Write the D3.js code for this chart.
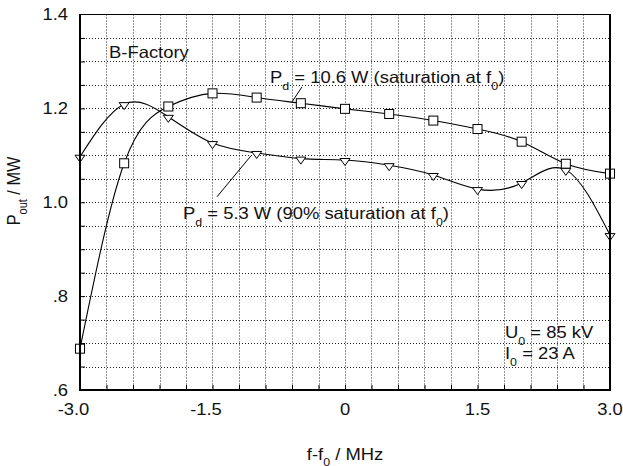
<!DOCTYPE html>
<html><head><meta charset="utf-8">
<script src="https://cdn.jsdelivr.net/npm/d3@7"></script>
<style>
html,body{margin:0;padding:0;background:#fff;}
svg{display:block;}
text{font-family:"Liberation Sans",Arial,sans-serif;fill:#111;}
</style></head>
<body>
<svg id="chart" width="623" height="466"></svg>
<script>
// ---- data ----
const freqs = [-3.0,-2.5,-2.0,-1.5,-1.0,-0.5,0,0.5,1.0,1.5,2.0,2.5,3.0];
const pSat = [0.688,1.083,1.204,1.232,1.223,1.211,1.199,1.188,1.174,1.156,1.129,1.082,1.061]; // Pd = 10.6 W
const p90  = [1.097,1.209,1.182,1.126,1.105,1.093,1.090,1.079,1.058,1.028,1.041,1.069,0.930]; // Pd = 5.3 W
const xTickValues = [-3.0,-1.5,0,1.5,3.0];
const xTickLabels = ["-3.0","-1.5","0","1.5","3.0"];
const yTickValues = [0.6,0.8,1.0,1.2,1.4];
const yTickLabels = [".6",".8","1.0","1.2","1.4"];

const svg = d3.select("#chart");
const L=80, R=610, T=14.5, B=390;
const x = d3.scaleLinear().domain([-3,3]).range([L,R]);
const y = d3.scaleLinear().domain([0.6,1.4]).range([B,T]);
const FS = 16.3, SUB = 11, SX = 1.13, SUBDY = 6.5;

// grid
const xGrid = d3.range(-2.7, 2.71, 0.3);
const yGrid = d3.range(0.65, 1.3999, 0.05);
const g = svg.append("g");
g.selectAll(".vg").data(xGrid).join("line")
  .attr("x1",d=>Math.round(x(d))+0.5).attr("x2",d=>Math.round(x(d))+0.5)
  .attr("y1",T).attr("y2",B)
  .attr("stroke","#222").attr("stroke-width",1).attr("stroke-dasharray","1,2");
g.selectAll(".hg").data(yGrid).join("line")
  .attr("y1",d=>Math.round(y(d))+0.5).attr("y2",d=>Math.round(y(d))+0.5)
  .attr("x1",L).attr("x2",R)
  .attr("stroke","#222").attr("stroke-width",1).attr("stroke-dasharray","1,2");

// inner ticks via d3 axes
svg.append("g").attr("transform",`translate(0,${B})`)
  .call(d3.axisBottom(x).tickValues(xGrid).tickSize(-5).tickFormat(""))
  .call(a=>a.select(".domain").remove())
  .call(a=>a.selectAll("line").attr("stroke","#000"));
svg.append("g").attr("transform",`translate(${L},0)`)
  .call(d3.axisLeft(y).tickValues(yGrid).tickSize(-5).tickFormat(""))
  .call(a=>a.select(".domain").remove())
  .call(a=>a.selectAll("line").attr("stroke","#000"));

// frame
svg.append("line").attr("x1",L).attr("x2",R).attr("y1",T).attr("y2",T).attr("stroke","#000").attr("stroke-width",1.2);
svg.append("line").attr("x1",L).attr("x2",R+1).attr("y1",B).attr("y2",B).attr("stroke","#000").attr("stroke-width",2);

// tick labels
svg.selectAll(".xl").data(xTickValues).join("text")
  .attr("transform",(d,i)=>`translate(${x(d) + (xTickLabels[i].startsWith("-")?-6.5:0)},415) scale(${SX},1)`)
  .attr("text-anchor","middle").attr("font-size",FS)
  .text((d,i)=>xTickLabels[i]);
svg.selectAll(".yl").data(yTickValues).join("text")
  .attr("transform",d=>`translate(68,${y(d)+5.8}) scale(${SX},1)`)
  .attr("text-anchor","end").attr("font-size",FS)
  .text((d,i)=>yTickLabels[i]);

// rich text helper: parts = [[text, isSub], ...]
function rich(parent, tx, ty, parts, opts={}){
  const t = parent.append("text")
    .attr("transform", opts.rotate ? `translate(${tx},${ty}) rotate(-90) scale(1,${SX})` : `translate(${tx},${ty}) scale(${SX},1)`)
    .attr("font-size",FS)
    .attr("text-anchor", opts.anchor||"start");
  let sub=false;
  parts.forEach(([s,isSub])=>{
    const ts = t.append("tspan").text(s);
    if(isSub && !sub){ts.attr("dy",SUBDY).attr("font-size",SUB);}
    else if(isSub){ts.attr("font-size",SUB);}
    else if(!isSub && sub){ts.attr("dy",-SUBDY);}
    sub=isSub;
  });
  return t;
}

// curves
const line = d3.line().x(d=>x(d[0])).y(d=>y(d[1])).curve(d3.curveNatural);
const satPts = freqs.map((f,i)=>[f,pSat[i]]);
const p90Pts = freqs.map((f,i)=>[f,p90[i]]);
const plot = svg.append("g");
plot.append("path").attr("d",line(satPts)).attr("fill","none").attr("stroke","#000").attr("stroke-width",1.1);
plot.append("path").attr("d",line(p90Pts)).attr("fill","none").attr("stroke","#000").attr("stroke-width",1.1);

// leader lines (data coordinates)
const leaders = [[[-0.487,1.2457],[-0.60,1.2138]],[[-1.449,1.0117],[-1.064,1.099]]];
plot.selectAll(".ld").data(leaders).join("line")
  .attr("x1",d=>x(d[0][0])).attr("y1",d=>y(d[0][1]))
  .attr("x2",d=>x(d[1][0])).attr("y2",d=>y(d[1][1]))
  .attr("stroke","#000").attr("stroke-width",1);

// markers
plot.selectAll(".sq").data(satPts).join("rect")
  .attr("x",d=>x(d[0])-4.5).attr("y",d=>y(d[1])-4.5).attr("width",9).attr("height",9)
  .attr("fill","#fff").attr("stroke","#000").attr("stroke-width",1);
plot.selectAll(".tr").data(p90Pts).join("path")
  .attr("transform",d=>`translate(${x(d[0])},${y(d[1])})`)
  .attr("d","M-5,-1.5L5,-1.5L0,5.5Z")
  .attr("fill","#fff").attr("stroke","#000").attr("stroke-width",1);

// left/right frame edges drawn above markers
svg.append("line").attr("x1",L).attr("x2",L).attr("y1",T-0.5).attr("y2",B+1).attr("stroke","#000").attr("stroke-width",2);
svg.append("line").attr("x1",R).attr("x2",R).attr("y1",T-0.5).attr("y2",B+1).attr("stroke","#000").attr("stroke-width",2);

// annotations
rich(svg,109,58.3,[["B-Factory",false]]);
rich(svg,270,83.3,[["P",false],["d",true],[" = 10.6 W (saturation at f",false],["0",true],[")",false]]);
rich(svg,183,219,[["P",false],["d",true],[" = 5.3 W (90% saturation at f",false],["0",true],[")",false]]);
rich(svg,505,338.3,[["U",false],["0",true],[" = 85 kV",false]]);
rich(svg,505,359,[["I",false],["0",true],[" = 23 A",false]]);

// axis titles
rich(svg,345,459.5,[["f-f",false],["0",true],[" / MHz",false]],{anchor:"middle"});
rich(svg,19.5,191,[["P",false],["out",true],[" / MW",false]],{anchor:"middle",rotate:true});
</script>
</body></html>
